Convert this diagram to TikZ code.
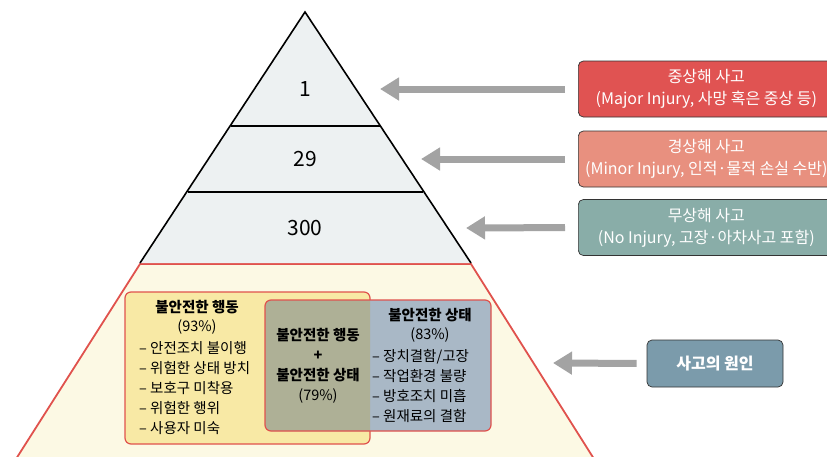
\documentclass[tikz,border=0pt]{standalone}
\usepackage{fontspec}
\setmainfont{Noto Sans CJK KR}
\usepackage{xcolor}
\usetikzlibrary{arrows.meta}
\definecolor{pyrgray}{HTML}{EDF1F2}
\definecolor{basecream}{HTML}{FCF9E4}
\definecolor{edgered}{HTML}{E0524D}
\definecolor{actyellow}{HTML}{F8E9A5}
\definecolor{condblue}{HTML}{A9B8C6}
\definecolor{bothgreen}{HTML}{AEB096}
\definecolor{majorred}{HTML}{E05352}
\definecolor{minorred}{HTML}{E8907F}
\definecolor{noteal}{HTML}{89ADA8}
\definecolor{causeblue}{HTML}{7B9BAB}
\definecolor{arrowgray}{HTML}{A3A3A3}

\begin{document}
\begin{tikzpicture}[x=1pt,y=-1pt,
    levelline/.style={black,line width=1.6pt},
    labelbox/.style={draw=black!80,line width=0.7pt,rounded corners=5pt,text=white,
        minimum width=256pt,minimum height=56pt,align=center,font=\fontsize{16}{22}\selectfont},
    bigarrow/.style={arrowgray,line width=7pt,-{Triangle[width=22pt,length=19pt]}},
    venntxt/.style={align=center,inner sep=0pt,font=\fontsize{14.5}{20}\selectfont}]
\useasboundingbox (0,0) rectangle (827,456);
% pyramid
\fill[basecream] (140,264) -- (471,264) -- (601,470) -- (9,470) -- cycle;
\draw[edgered,line width=1.8pt] (9,470) -- (140,264) -- (471,264) -- (601,470);
\fill[pyrgray] (305,12) -- (140,263) -- (471,263) -- cycle;
\draw[levelline,line join=miter] (140,263) -- (305,12) -- (471,263);
\draw[levelline] (231,126) -- (380,126);
\draw[levelline] (188,192) -- (423,192);
\node[font=\fontsize{21}{21}\selectfont] (n1) at (305,89) {1};
\node[font=\fontsize{21}{21}\selectfont] (n29) at (305,159) {29};
\node[font=\fontsize{21}{21}\selectfont] (n300) at (305,228) {300};
% venn
\draw[edgered,line width=1.2pt,fill=actyellow,rounded corners=6pt] (125,292) rectangle (370,444);
\fill[condblue,rounded corners=6pt] (265,300) rectangle (491,431);
\begin{scope}
  \clip[rounded corners=6pt] (125,292) rectangle (370,444);
  \fill[bothgreen,rounded corners=6pt] (265,300) rectangle (491,431);
\end{scope}
\draw[edgered,line width=1.2pt,rounded corners=6pt] (265,300) rectangle (491,431);
\node[venntxt,font=\fontsize{14.5}{20}\selectfont\bfseries] (acttitle) at (197,307) {불안전한 행동};
\node[venntxt] (actpct) at (197,327) {(93\%)};
\node[venntxt,anchor=west,align=left] (actlist) at (139,388)
    {– 안전조치 불이행\\– 위험한 상태 방치\\– 보호구 미착용\\– 위험한 행위\\– 사용자 미숙};
\node[venntxt] (bothtxt) at (318,365.5)
    {\bfseries 불안전한 행동\\\bfseries +\\\bfseries 불안전한 상태\\(79\%)};
\node[venntxt,font=\fontsize{14.5}{20}\selectfont\bfseries] (condtitle) at (430,315) {불안전한 상태};
\node[venntxt] (condpct) at (430,335) {(83\%)};
\node[venntxt,anchor=west,align=left] (condlist) at (372,386.5)
    {– 장치결함/고장\\– 작업환경 불량\\– 방호조치 미흡\\– 원재료의 결함};
% labels
\node[labelbox,fill=majorred,anchor=west] (major) at (578,89) {중상해 사고\\(Major Injury, 사망 혹은 중상 등)};
\node[labelbox,fill=minorred,anchor=west] (minor) at (578,159) {경상해 사고\\(Minor Injury, 인적·물적 손실 수반)};
\node[labelbox,fill=noteal,anchor=west] (noinj) at (578,227.5) {무상해 사고\\(No Injury, 고장·아차사고 포함)};
\node[labelbox,fill=causeblue,minimum width=136pt,minimum height=47pt,
      font=\fontsize{16}{20}\selectfont\bfseries] (cause) at (715,363.5) {사고의 원인};
\coordinate (tip1) at (380,89);
\coordinate (tip2) at (421,159);
\coordinate (tip3) at (466,228);
\coordinate (tip4) at (553,363);
\draw[bigarrow,shorten <=13pt] (major.west) -- (tip1);
\draw[bigarrow,shorten <=13pt] (minor.west) -- (tip2);
\draw[bigarrow,shorten <=13pt] (noinj.west) -- (tip3);
\draw[bigarrow,shorten <=10pt] (cause.west) -- (tip4);
\end{tikzpicture}
\end{document}
